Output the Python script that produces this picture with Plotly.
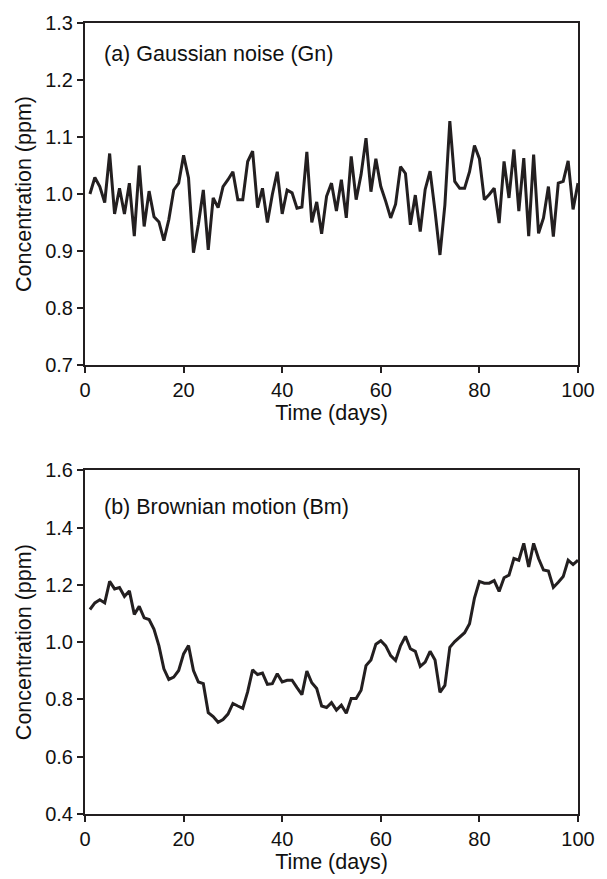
import plotly.graph_objects as go

days = list(range(1, 101))

gaussian_noise = [
    1.000, 1.029, 1.013, 0.985, 1.071, 0.965, 1.010, 0.965, 1.019, 0.926,
    1.050, 0.943, 1.005, 0.960, 0.951, 0.918, 0.955, 1.007, 1.019, 1.068,
    1.028, 0.897, 0.947, 1.007, 0.902, 0.993, 0.976, 1.013, 1.025, 1.039,
    0.990, 0.990, 1.057, 1.075, 0.976, 1.010, 0.950, 0.999, 1.039, 0.965,
    1.007, 1.002, 0.975, 0.977, 1.074, 0.950, 0.986, 0.930, 0.996, 1.019,
    0.970, 1.025, 0.958, 1.066, 0.990, 1.034, 1.098, 1.004, 1.062, 1.013,
    0.987, 0.958, 0.982, 1.048, 1.036, 0.946, 0.998, 0.934, 1.008, 1.040,
    0.970, 0.893, 0.981, 1.128, 1.022, 1.010, 1.010, 1.039, 1.085, 1.062,
    0.990, 0.999, 1.010, 0.949, 1.057, 0.993, 1.078, 0.970, 1.063, 0.926,
    1.069, 0.931, 0.958, 1.013, 0.925, 1.019, 1.022, 1.058, 0.973, 1.019,
]

brownian_motion = [
    1.114, 1.137, 1.148, 1.137, 1.212, 1.186, 1.191, 1.160, 1.179, 1.097,
    1.125, 1.085, 1.079, 1.045, 0.987, 0.907, 0.870, 0.878, 0.901, 0.959,
    0.988, 0.901, 0.861, 0.855, 0.754, 0.740, 0.720, 0.730, 0.749, 0.786,
    0.777, 0.769, 0.827, 0.903, 0.887, 0.892, 0.853, 0.855, 0.890, 0.861,
    0.867, 0.867, 0.841, 0.817, 0.899, 0.858, 0.838, 0.777, 0.772, 0.789,
    0.763, 0.780, 0.752, 0.803, 0.803, 0.832, 0.918, 0.938, 0.993, 1.005,
    0.987, 0.953, 0.936, 0.987, 1.020, 0.977, 0.968, 0.915, 0.930, 0.968,
    0.938, 0.825, 0.849, 0.982, 1.002, 1.016, 1.033, 1.064, 1.154, 1.212,
    1.206, 1.206, 1.215, 1.177, 1.225, 1.234, 1.292, 1.286, 1.345, 1.263,
    1.345, 1.292, 1.252, 1.248, 1.191, 1.209, 1.229, 1.286, 1.271, 1.286,
]

x_ticks = [0, 20, 40, 60, 80, 100]
y_ticks_top = [0.7, 0.8, 0.9, 1.0, 1.1, 1.2, 1.3]
y_ticks_bottom = [0.4, 0.6, 0.8, 1.0, 1.2, 1.4, 1.6]

FONT = "Liberation Sans, Arial, sans-serif"
LINE = "#231f20"
TEXT = "#111111"

fig = go.Figure()
fig.add_trace(go.Scatter(x=days, y=gaussian_noise, mode="lines",
                         line=dict(color=LINE, width=3), xaxis="x", yaxis="y",
                         showlegend=False))
fig.add_trace(go.Scatter(x=days, y=brownian_motion, mode="lines",
                         line=dict(color=LINE, width=3), xaxis="x2", yaxis="y2",
                         showlegend=False))

axis_common = dict(showline=True, linecolor=LINE, linewidth=2, mirror=True,
                   ticks="outside", ticklen=6, tickwidth=2, tickcolor=LINE,
                   showgrid=False, zeroline=False,
                   tickfont=dict(family=FONT, size=20, color=TEXT))
title_font = dict(family=FONT, size=21.5, color=TEXT)

fig.update_layout(
    width=607, height=879,
    margin=dict(l=85, r=29, t=13, b=65),
    plot_bgcolor="white", paper_bgcolor="white",
    xaxis=dict(domain=[0, 1], range=[0, 100], tickvals=x_ticks, anchor="y",
               title=dict(text="Time (days)", font=title_font, standoff=1),
               **axis_common),
    yaxis=dict(domain=[0.5677, 1], range=[0.7, 1.3], tickvals=y_ticks_top,
               tickformat=".1f", anchor="x",
               title=dict(text="Concentration (ppm)", font=title_font, standoff=8),
               **axis_common),
    xaxis2=dict(domain=[0, 1], range=[0, 100], tickvals=x_ticks, anchor="y2",
                title=dict(text="Time (days)", font=title_font, standoff=1),
                **axis_common),
    yaxis2=dict(domain=[0, 0.4345], range=[0.4, 1.6], tickvals=y_ticks_bottom,
                tickformat=".1f", anchor="x2",
                title=dict(text="Concentration (ppm)", font=title_font, standoff=8),
                **axis_common),
    annotations=[
        dict(text="(a) Gaussian noise (Gn)", xref="x domain", yref="y domain",
             x=0.035, y=0.91, xanchor="left", yanchor="middle", showarrow=False,
             font=dict(family=FONT, size=21.5, color=TEXT)),
        dict(text="(b) Brownian motion (Bm)", xref="x2 domain", yref="y2 domain",
             x=0.035, y=0.892, xanchor="left", yanchor="middle", showarrow=False,
             font=dict(family=FONT, size=21.5, color=TEXT)),
    ],
)

fig.write_html("out.html")
